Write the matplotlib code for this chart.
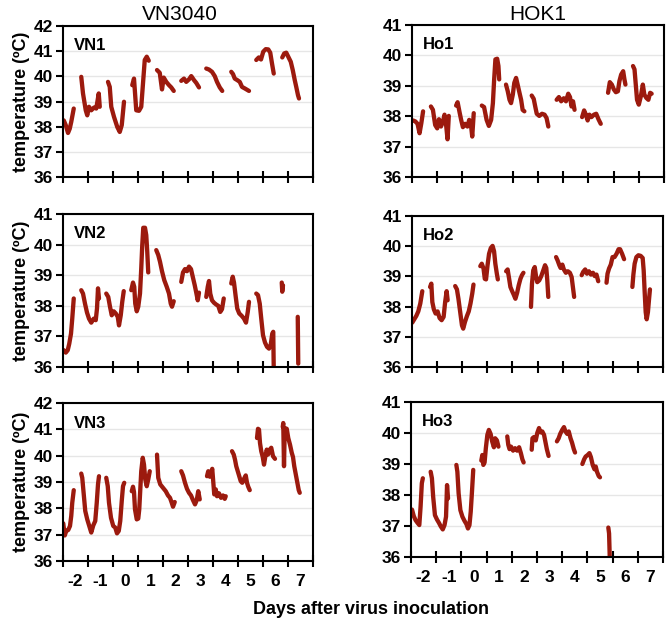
import numpy as np
import matplotlib
matplotlib.use("Agg")
import matplotlib.pyplot as plt

plt.rcParams['font.family'] = ['Liberation Sans', 'DejaVu Sans']
plt.rcParams['axes.unicode_minus'] = False

nan = np.nan

col_titles = ["VN3040", "HOK1"]
panel_names = ["VN1", "Ho1", "VN2", "Ho2", "VN3", "Ho3"]
xtick_labels = ["-2", "-1", "0", "1", "2", "3", "4", "5", "6", "7"]
xlabel = "Days after virus inoculation"
ylabel = "temperature (\u00baC)"

# ---- VN1 ----
vn1_day = [-2.47, -2.39, -2.30, -2.23, -2.17, -2.07, nan,
           -1.77, -1.70, -1.59, -1.53, -1.46, -1.37, -1.26, -1.17, -1.07, -1.03, nan,
           -0.70, -0.63, -0.57, -0.46, -0.33, -0.23, -0.15, -0.06, nan,
           0.27, 0.34, 0.43, 0.54, 0.63, 0.70, 0.77, 0.85, 0.93, nan,
           1.26, 1.37, 1.46, 1.53, 1.63, 1.74, 1.83, 1.93, nan,
           2.23, 2.34, 2.43, 2.54, 2.63, 2.74, 2.83, 2.94, nan,
           3.23, 3.34, 3.46, 3.57, 3.66, 3.77, 3.87, nan,
           4.23, 4.30, 4.37, 4.47, 4.57, 4.66, 4.77, 4.94, nan,
           5.23, 5.33, 5.42, 5.51, 5.61, 5.71, 5.79, 5.86, 5.93, nan,
           6.27, 6.35, 6.43, 6.51, 6.61, 6.69, 6.77, 6.83, 6.90, 6.94]
vn1_temp = [38.25, 38.06, 37.75, 37.92, 38.19, 38.72, nan,
            39.98, 39.32, 38.65, 38.45, 38.79, 38.65, 38.76, 38.72, 39.32, 38.79, nan,
            39.78, 39.58, 38.79, 38.39, 37.99, 37.79, 38.06, 38.99, nan,
            39.65, 39.91, 38.65, 38.63, 38.79, 39.72, 40.65, 40.78, 40.62, nan,
            40.25, 40.14, 39.48, 39.95, 39.78, 39.65, 39.56, 39.42, nan,
            39.82, 39.91, 39.78, 39.88, 40.01, 39.85, 39.74, 39.56, nan,
            40.31, 40.27, 40.18, 40.01, 39.78, 39.56, 39.42, nan,
            40.18, 40.09, 39.91, 39.85, 39.78, 39.58, 39.52, 39.42, nan,
            40.65, 40.75, 40.67, 40.98, 41.08, 41.07, 40.94, 40.51, 40.11, nan,
            40.75, 40.91, 40.94, 40.78, 40.58, 40.25, 39.85, 39.58, 39.25, 39.12]

# ---- Ho1 ----
ho1_day = [-2.46, -2.37, -2.28, -2.20, -2.13, -2.06, nan,
           -1.75, -1.67, -1.58, -1.50, -1.43, -1.35, -1.27, -1.21, -1.14, -1.09, -1.04, nan,
           -0.75, -0.69, -0.61, -0.55, -0.48, -0.39, -0.30, -0.23, -0.16, -0.11, -0.05, nan,
           0.27, 0.36, 0.46, 0.55, 0.64, 0.71, 0.76, 0.81, 0.88, 0.93, 0.96, nan,
           1.23, 1.30, 1.37, 1.43, 1.50, 1.56, 1.63, 1.70, 1.76, 1.83, 1.89, 1.96, nan,
           2.25, 2.33, 2.39, 2.45, 2.55, 2.66, 2.76, 2.84, 2.91, nan,
           3.24, 3.33, 3.42, 3.52, 3.61, 3.70, 3.77, 3.83, 3.89, 3.95, nan,
           4.25, 4.33, 4.40, 4.47, 4.54, 4.62, 4.72, 4.81, 4.90, 4.99, nan,
           5.28, 5.35, 5.43, 5.51, 5.59, 5.67, 5.73, 5.80, 5.88, 5.93, 5.97, nan,
           6.27, 6.33, 6.38, 6.43, 6.50, 6.58, 6.66, 6.72, 6.80, 6.88, 6.95, 7.01]
ho1_temp = [37.86, 37.83, 37.75, 37.44, 37.77, 38.16, nan,
            38.32, 38.21, 37.71, 37.60, 37.90, 37.66, 37.83, 38.05, 37.66, 37.24, 38.01, nan,
            38.35, 38.46, 38.12, 37.88, 37.64, 37.75, 37.66, 37.88, 37.71, 37.33, 38.10, nan,
            38.35, 38.30, 37.88, 37.68, 37.88, 38.43, 39.21, 39.87, 39.89, 39.65, 39.21, nan,
            39.04, 38.82, 38.54, 38.43, 38.71, 39.10, 39.26, 39.01, 38.79, 38.54, 38.21, 38.16, nan,
            38.68, 38.57, 38.32, 38.08, 38.01, 38.08, 38.05, 37.94, 37.66, nan,
            38.54, 38.63, 38.49, 38.59, 38.49, 38.74, 38.63, 38.32, 38.49, 38.21, nan,
            37.97, 38.19, 38.05, 37.86, 38.05, 37.97, 38.05, 38.08, 37.90, 37.75, nan,
            38.77, 39.12, 39.04, 38.88, 38.79, 38.82, 39.15, 39.37, 39.48, 39.21, 39.04, nan,
            39.65, 39.54, 39.04, 38.54, 38.38, 38.65, 39.04, 38.71, 38.60, 38.54, 38.77, 38.74]

# ---- VN2 ----
vn2_day = [-2.47, -2.39, -2.31, -2.25, -2.18, -2.13, -2.07, nan,
           -1.77, -1.70, -1.62, -1.54, -1.46, -1.37, -1.27, -1.19, -1.14, -1.10, -1.06, nan,
           -0.77, -0.69, -0.62, -0.55, -0.47, -0.39, -0.31, -0.26, -0.19, -0.13, -0.07, nan,
           0.23, 0.30, 0.35, 0.39, 0.45, 0.51, 0.58, 0.63, 0.67, 0.71, 0.78, 0.83, 0.87, 0.91, nan,
           1.23, 1.31, 1.38, 1.46, 1.55, 1.65, 1.74, 1.81, 1.86, 1.93, nan,
           2.23, 2.30, 2.38, 2.46, 2.54, 2.62, 2.69, 2.77, 2.83, 2.89, 2.94, nan,
           3.23, 3.29, 3.34, 3.39, 3.46, 3.54, 3.63, 3.71, 3.79, 3.86, 3.93, nan,
           4.23, 4.29, 4.34, 4.41, 4.47, 4.55, 4.65, 4.74, 4.82, 4.89, 4.94, nan,
           5.23, 5.30, 5.37, 5.43, 5.50, 5.58, 5.66, 5.74, 5.81, 5.87, 5.91, 5.93, nan,
           6.25, 6.27, 6.30, nan,
           6.89, 6.91]
vn2_temp = [36.55, 36.47, 36.55, 36.76, 37.09, 37.58, 38.24, nan,
            38.51, 38.40, 38.07, 37.78, 37.58, 37.45, 37.58, 37.53, 37.91, 38.57, 38.24, nan,
            38.40, 38.29, 37.97, 37.69, 37.82, 37.75, 37.64, 37.36, 37.69, 38.13, 38.48, nan,
            38.51, 38.76, 38.62, 38.07, 37.82, 37.97, 38.40, 39.22, 39.98, 40.55, 40.55, 40.31, 39.77, 39.09, nan,
            39.82, 39.66, 39.44, 39.13, 38.84, 38.62, 38.40, 38.07, 37.97, 38.15, nan,
            38.78, 39.09, 39.20, 39.13, 39.28, 39.20, 38.95, 38.67, 38.43, 38.18, 38.43, nan,
            38.29, 38.62, 38.81, 38.40, 38.18, 38.10, 38.04, 38.00, 37.80, 37.89, 38.24, nan,
            38.73, 38.95, 38.76, 38.29, 37.91, 37.75, 37.67, 37.58, 37.45, 37.80, 38.13, nan,
            38.40, 38.35, 38.07, 37.58, 37.04, 36.80, 36.66, 36.60, 36.73, 37.09, 37.15, 35.90, nan,
            38.76, 38.46, 38.67, nan,
            37.64, 36.11]

# ---- Ho2 ----
ho2_day = [-2.49, -2.41, -2.33, -2.25, -2.17, -2.09, nan,
           -1.78, -1.73, -1.69, -1.63, -1.56, -1.48, -1.40, -1.32, -1.24, -1.18, -1.12, -1.08, nan,
           -0.78, -0.71, -0.65, -0.58, -0.51, -0.46, -0.39, -0.31, -0.24, -0.17, -0.10, -0.05, nan,
           0.22, 0.28, 0.35, 0.40, 0.45, 0.51, 0.57, 0.64, 0.71, 0.77, 0.82, 0.88, 0.92, nan,
           1.25, 1.31, 1.37, 1.42, 1.49, 1.55, 1.62, 1.69, 1.75, 1.82, 1.88, 1.94, nan,
           2.24, 2.28, 2.33, 2.39, 2.44, 2.49, 2.57, 2.65, 2.73, 2.80, 2.85, 2.89, 2.93, nan,
           3.24, 3.30, 3.37, 3.42, 3.49, 3.55, 3.63, 3.71, 3.79, 3.86, 3.91, 3.96, nan,
           4.26, 4.32, 4.40, 4.47, 4.55, 4.63, 4.71, 4.78, 4.85, 4.92, nan,
           5.25, 5.29, 5.35, 5.42, 5.49, 5.57, 5.65, 5.73, 5.79, 5.87, 5.95, nan,
           6.28, 6.32, 6.37, 6.44, 6.52, 6.61, 6.69, 6.73, 6.77, 6.81, 6.85, 6.90, 6.94, 6.98]
ho2_temp = [37.47, 37.58, 37.69, 37.84, 38.10, 38.51, nan,
            38.65, 38.76, 38.15, 37.91, 37.77, 37.84, 37.62, 37.55, 37.66, 38.15, 38.51, 38.21, nan,
            38.68, 38.57, 38.26, 37.82, 37.38, 37.27, 37.49, 37.69, 37.84, 38.10, 38.43, 38.73, nan,
            39.34, 39.42, 39.26, 38.92, 38.90, 39.37, 39.75, 39.94, 40.01, 39.83, 39.42, 39.09, 38.90, nan,
            39.17, 39.23, 38.92, 38.65, 38.51, 38.40, 38.26, 38.46, 38.70, 38.92, 39.04, 39.12, nan,
            37.99, 38.76, 39.20, 39.31, 39.01, 38.81, 38.87, 39.01, 39.20, 39.37, 39.28, 38.87, 38.32, nan,
            39.64, 39.53, 39.37, 39.28, 39.39, 39.23, 39.12, 39.17, 39.12, 38.98, 38.65, 38.32, nan,
            39.04, 39.15, 39.23, 39.09, 39.17, 39.06, 39.12, 39.01, 39.06, 38.84, nan,
            38.79, 39.09, 39.26, 39.39, 39.64, 39.64, 39.75, 39.90, 39.90, 39.75, 39.57, nan,
            38.65, 39.06, 39.42, 39.64, 39.70, 39.68, 39.61, 39.20, 38.48, 37.82, 37.58, 37.82, 38.21, 38.57]

# ---- VN3 ----
vn3_day = [-2.49, -2.43, -2.37, -2.29, -2.22, -2.17, -2.13, -2.07, nan,
           -1.77, -1.73, -1.67, -1.61, -1.53, -1.45, -1.37, -1.29, -1.21, -1.15, -1.10, -1.06, nan,
           -0.77, -0.71, -0.66, -0.58, -0.49, -0.41, -0.34, -0.27, -0.21, -0.15, -0.10, -0.05, nan,
           0.25, 0.30, 0.34, 0.38, 0.45, 0.51, 0.55, 0.59, 0.63, 0.69, 0.74, 0.79, 0.85, 0.91, 0.97, nan,
           1.26, 1.29, 1.31, 1.39, 1.50, 1.61, 1.70, 1.78, 1.85, 1.90, 1.97, nan,
           2.23, 2.30, 2.38, 2.46, 2.54, 2.62, 2.70, 2.78, 2.85, 2.91, 2.97, nan,
           3.26, 3.31, 3.37, 3.42, 3.47, 3.51, 3.55, 3.61, 3.66, 3.74, 3.82, 3.90, 3.97, 4.01, nan,
           4.26, 4.33, 4.38, 4.43, 4.49, 4.55, 4.61, 4.67, 4.74, 4.81, 4.86, 4.91, 4.97, nan,
           5.26, 5.30, 5.34, 5.38, 5.43, 5.49, 5.54, 5.59, 5.65, 5.70, 5.77, 5.83, 5.90, 5.98, nan,
           6.29, 6.31, 6.34, 6.37, 6.45, 6.51, 6.58, 6.65, 6.70, 6.75, 6.81, 6.87, 6.93, 6.97]
vn3_temp = [37.43, 36.97, 37.14, 37.18, 37.33, 37.71, 38.21, 38.69, nan,
            39.32, 39.16, 38.53, 37.90, 37.58, 37.33, 37.08, 37.35, 37.52, 38.21, 38.91, 39.22, nan,
            39.16, 38.84, 38.21, 37.64, 37.33, 37.27, 37.05, 37.14, 37.52, 38.28, 38.84, 38.97, nan,
            38.65, 38.82, 38.62, 37.96, 37.58, 37.61, 37.96, 38.72, 39.41, 39.92, 39.66, 39.10, 38.84, 39.10, 39.41, nan,
            40.04, 39.54, 39.16, 38.91, 38.78, 38.65, 38.49, 38.40, 38.21, 38.06, 38.24, nan,
            39.41, 39.25, 38.97, 38.74, 38.59, 38.49, 38.31, 38.15, 38.31, 38.65, 38.34, nan,
            39.22, 39.41, 39.20, 39.35, 39.50, 39.03, 38.53, 38.72, 38.46, 38.57, 38.40, 38.49, 38.36, 38.46, nan,
            40.17, 40.04, 39.85, 39.60, 39.41, 39.22, 39.03, 38.97, 39.12, 39.25, 38.97, 38.82, 38.69, nan,
            40.67, 41.02, 40.99, 40.48, 40.17, 39.95, 39.66, 39.95, 40.23, 40.04, 40.23, 40.30, 39.98, 39.88, nan,
            41.09, 41.24, 39.60, 41.05, 41.02, 40.67, 40.42, 40.11, 39.95, 39.60, 39.29, 38.97, 38.69, 38.59]

# ---- Ho3 ----
ho3_day = [-2.46, -2.39, -2.32, -2.24, -2.17, -2.12, -2.07, -2.03, nan,
           -1.72, -1.67, -1.62, -1.55, -1.47, -1.39, -1.32, -1.24, -1.17, -1.11, -1.07, -1.03, nan,
           -0.70, -0.66, -0.61, -0.54, -0.46, -0.38, -0.30, -0.24, -0.18, -0.13, -0.08, -0.03, nan,
           0.29, 0.33, 0.37, 0.42, 0.47, 0.53, 0.59, 0.66, 0.72, 0.79, 0.84, 0.91, 0.97, nan,
           1.32, 1.36, 1.41, 1.47, 1.55, 1.63, 1.71, 1.79, 1.86, 1.92, 1.97, nan,
           2.29, 2.32, 2.38, 2.45, 2.51, 2.58, 2.64, 2.71, 2.78, 2.83, 2.89, 2.96, nan,
           3.29, 3.36, 3.42, 3.50, 3.57, 3.63, 3.70, 3.76, 3.83, 3.89, 3.96, 4.01, nan,
           4.30, 4.37, 4.43, 4.51, 4.58, 4.64, 4.71, 4.78, 4.83, 4.88, 4.95, 5.00, nan,
           5.33, 5.36, 5.39]
ho3_temp = [37.53, 37.32, 37.19, 37.10, 37.03, 37.62, 38.38, 38.54, nan,
            38.75, 38.54, 37.94, 37.35, 37.21, 37.10, 36.99, 36.89, 37.03, 37.30, 38.32, 37.89, nan,
            38.97, 38.75, 38.05, 37.51, 37.30, 37.17, 37.06, 36.92, 37.03, 37.46, 38.11, 38.81, nan,
            39.11, 39.29, 38.97, 39.05, 39.51, 39.94, 40.10, 39.97, 39.73, 39.54, 39.83, 39.76, 39.56, nan,
            39.89, 39.62, 39.48, 39.56, 39.43, 39.51, 39.43, 39.54, 39.35, 39.15, 39.05, nan,
            39.46, 39.83, 39.87, 39.76, 40.00, 40.16, 40.02, 40.05, 39.94, 39.73, 39.48, 39.26, nan,
            39.73, 39.83, 39.97, 40.10, 40.19, 40.05, 39.97, 40.05, 39.83, 39.69, 39.48, 39.37, nan,
            39.00, 39.15, 39.24, 39.29, 39.35, 39.22, 38.97, 38.83, 38.92, 38.75, 38.61, 38.57, nan,
            36.95, 36.76, 35.90]

series = [(vn1_day, vn1_temp), (ho1_day, ho1_temp),
          (vn2_day, vn2_temp), (ho2_day, ho2_temp),
          (vn3_day, vn3_temp), (ho3_day, ho3_temp)]
ytops = [42, 41, 41, 41, 42, 41]

W, H = 672, 628
fig = plt.figure(figsize=(W / 100, H / 100), dpi=100)

# axes rectangles in pixels: (left, top, right, bottom)
rects = [(63, 26, 313, 177), (412, 25, 664, 177),
         (63, 214, 313, 367), (412, 216, 663, 367),
         (63, 403, 313, 561), (411, 402, 663, 557)]

line_color = "#9C1A0E"
for i, (rect, (xd, yd), ytop, name) in enumerate(zip(rects, series, ytops, panel_names)):
    l, t, r, b = rect
    ax = fig.add_axes([l / W, 1 - b / H, (r - l) / W, (b - t) / H])
    ax.plot(xd, yd, color=line_color, lw=3.1, solid_capstyle='round', solid_joinstyle='round')
    ax.set_xlim(-2.5, 7.5)
    ax.set_ylim(36, ytop)
    ax.set_yticks(range(36, ytop + 1))
    ax.yaxis.grid(True, color="#e6e6e6", lw=1.0)
    ax.set_axisbelow(True)
    ax.set_xticks(np.arange(-2.5, 7.6, 1.0))
    ax.set_xticklabels([])
    ax.tick_params(axis='x', which='major', direction='inout', length=9, width=1.5)
    ax.set_xticks(np.arange(-2, 7.1, 1.0), minor=True)
    if i >= 4:
        ax.set_xticklabels(xtick_labels, minor=True, fontsize=12.5, fontweight='bold')
    else:
        ax.set_xticklabels([], minor=True)
    ax.tick_params(axis='x', which='minor', length=0, pad=9)
    ax.tick_params(axis='y', direction='out', length=5, width=1.5, labelsize=12.5, pad=2)
    for lab in ax.get_yticklabels():
        lab.set_fontweight('bold')
    for sp in ax.spines.values():
        sp.set_linewidth(1.5)
        sp.set_color('black')
    ax.text(0.045, 0.92, name, transform=ax.transAxes, fontsize=12, fontweight='bold',
            va='top', ha='left')
    if i % 2 == 0:
        ax.set_ylabel(ylabel, fontsize=13, fontweight='bold', labelpad=3)

fig.text(180 / W, 1 - 15 / H, col_titles[0], ha='center', va='center', fontsize=15)
fig.text(538 / W, 1 - 15 / H, col_titles[1], ha='center', va='center', fontsize=15)
fig.text(371 / W, 1 - 610 / H, xlabel, ha='center', va='center', fontsize=13, fontweight='bold')

fig.savefig("out.png", dpi=100, facecolor='white')
